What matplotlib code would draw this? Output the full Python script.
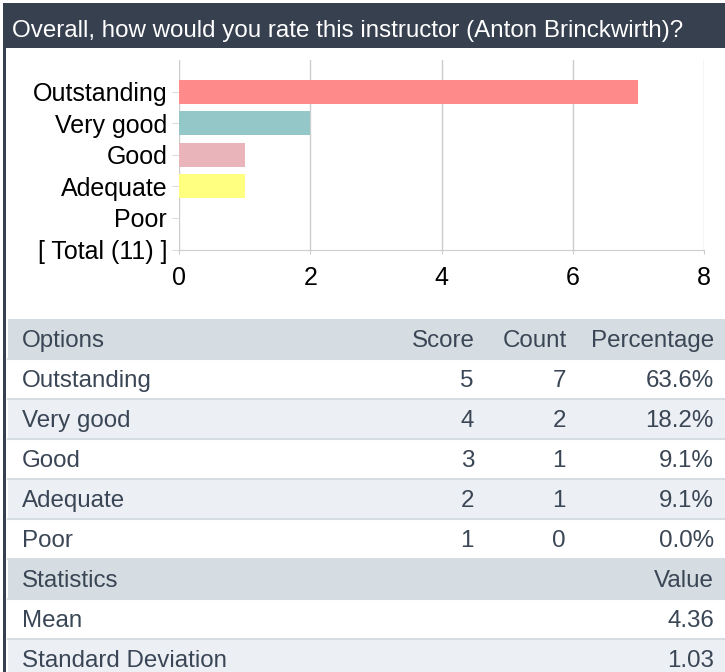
import matplotlib
matplotlib.use("Agg")
import matplotlib.pyplot as plt
from matplotlib.patches import Rectangle

plt.rcParams['font.family'] = ['Liberation Sans', 'DejaVu Sans']

# Data
title = "Overall, how would you rate this instructor (Anton Brinckwirth)?"
options = ["Outstanding", "Very good", "Good", "Adequate", "Poor"]
scores = [5, 4, 3, 2, 1]
counts = [7, 2, 1, 1, 0]
percentages = [63.6, 18.2, 9.1, 9.1, 0.0]
bar_colors = ["#ff8a8a", "#94c8c8", "#e9b5ba", "#ffff80", "#cccccc"]
stat_names = ["Mean", "Standard Deviation"]
stat_values = [4.36, 1.03]
x_ticks = [0, 2, 4, 6, 8]

W, H = 725, 672
fig = plt.figure(figsize=(W / 100, H / 100), dpi=100)

# background canvas in pixel coordinates
bg = fig.add_axes([0, 0, 1, 1])
bg.set_xlim(0, W)
bg.set_ylim(H, 0)
bg.axis("off")

dark = "#36404f"
txt = "#3a4655"
head_bg = "#d6dde2"
alt_bg = "#ecf0f4"

# left border and title bar
bg.add_patch(Rectangle((3, 3), 3.5, H, color=dark, lw=0))
bg.add_patch(Rectangle((3, 3), W, 45, color=dark, lw=0))
bg.text(12, 36.5, title, color="white", fontsize=17.4, va="baseline", ha="left")

# chart
labels = options + [f"[ Total ({sum(counts)}) ]"]
ax = fig.add_axes([179 / W, 1 - 249.5 / H, (704 - 179) / W, (249.5 - 60) / H])
ypos = list(range(len(labels)))
ax.barh(ypos[:len(options)], counts, height=0.76, color=bar_colors[:len(options)])
ax.set_ylim(len(labels) - 1, -1)
ax.set_xlim(x_ticks[0], x_ticks[-1])
ax.set_xticks(x_ticks)
ax.set_yticks(ypos)
ax.set_yticklabels(labels)
ax.grid(axis="x", color="#cccccc", lw=1)
ax.set_axisbelow(True)
for s in ["top", "right", "left"]:
    ax.spines[s].set_visible(False)
ax.spines["bottom"].set_color("#cccccc")
ax.tick_params(axis="y", length=5, color="#dddddd", pad=3.5, labelsize=18, labelcolor="black")
ax.tick_params(axis="x", length=3, color="#cccccc", pad=9, labelsize=18, labelcolor="black")

# table
def row(top, color):
    if color:
        bg.add_patch(Rectangle((8, top), W - 8, 40, color=color, lw=0))
    bg.plot([8, W], [top + 40, top + 40], color=head_bg, lw=1.5)

fs = 17.4
top = 319
row(top, head_bg)
bg.text(22, top + 28, "Options", color=txt, fontsize=fs)
bg.text(475, top + 28, "Score", color=txt, fontsize=fs, ha="right")
bg.text(567, top + 28, "Count", color=txt, fontsize=fs, ha="right")
bg.text(714, top + 28, "Percentage", color=txt, fontsize=fs, ha="right")
top += 40
for i, (o, sc, c, p) in enumerate(zip(options, scores, counts, percentages)):
    row(top, alt_bg if i % 2 else None)
    bg.text(22, top + 28, o, color=txt, fontsize=fs)
    bg.text(474, top + 28, str(sc), color=txt, fontsize=fs, ha="right")
    bg.text(566, top + 28, str(c), color=txt, fontsize=fs, ha="right")
    bg.text(714, top + 28, f"{p:.1f}%", color=txt, fontsize=fs, ha="right")
    top += 40

row(top, head_bg)
bg.text(22, top + 28, "Statistics", color=txt, fontsize=fs)
bg.text(714, top + 28, "Value", color=txt, fontsize=fs, ha="right")
top += 40
for i, (n, v) in enumerate(zip(stat_names, stat_values)):
    row(top, alt_bg if i % 2 else None)
    bg.text(22, top + 28, n, color=txt, fontsize=fs)
    bg.text(714, top + 28, f"{v:.2f}", color=txt, fontsize=fs, ha="right")
    top += 40

fig.savefig("out.png", dpi=100)
